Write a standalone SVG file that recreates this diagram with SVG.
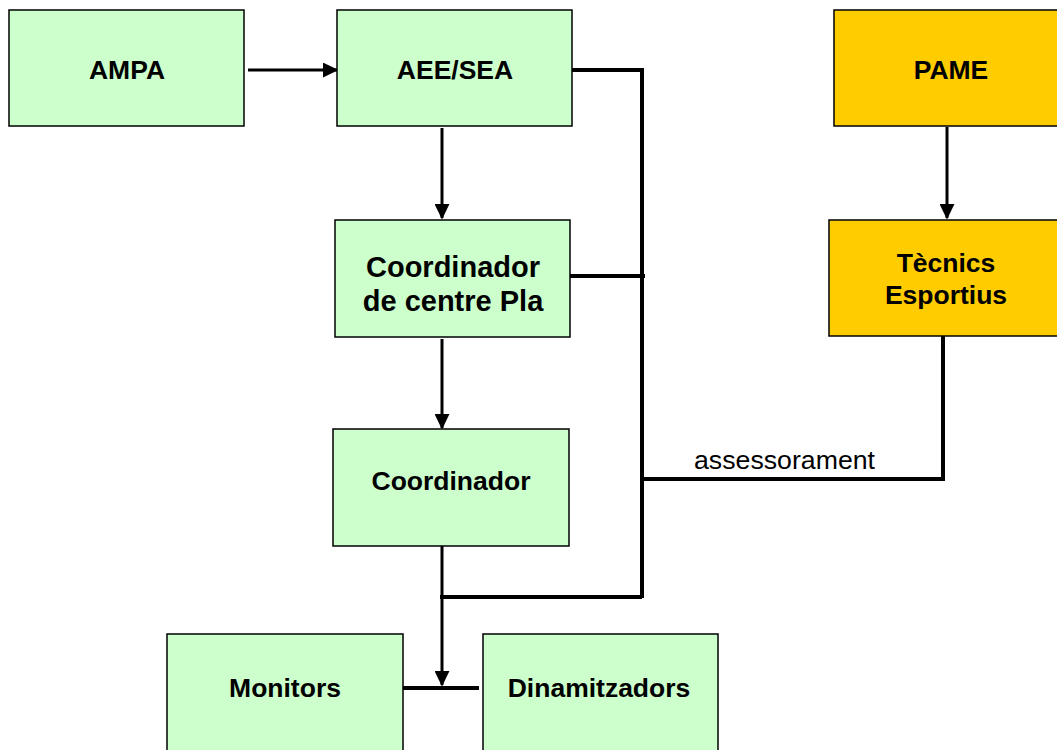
<svg xmlns="http://www.w3.org/2000/svg" width="1057" height="750" viewBox="0 0 1057 750">
<style>
.g{fill:#CCFFCC;stroke:#000;stroke-width:1.5}
.y{fill:#FFCC00;stroke:#000;stroke-width:1.5}
.t{font-family:"Liberation Sans",Arial,sans-serif;font-weight:bold;font-size:26.5px;text-anchor:middle;fill:#000}
.big{font-size:29px}
.c{fill:none;stroke:#000;stroke-width:3}
.k{fill:none;stroke:#000;stroke-width:4}
</style>
<defs>
<marker id="ah" markerWidth="5.2" markerHeight="5" refX="4.7" refY="2.5" orient="auto" markerUnits="strokeWidth">
<path d="M0,0 L5.2,2.5 L0,5 Z" fill="#000"/>
</marker>
</defs>
<rect width="1057" height="750" fill="#fff"/>
<g id="connectors">
<line class="c" x1="248" y1="70" x2="337" y2="70" marker-end="url(#ah)"/>
<line class="c" x1="442" y1="128" x2="442" y2="218" marker-end="url(#ah)"/>
<line class="c" x1="442" y1="339" x2="442" y2="428" marker-end="url(#ah)"/>
<line class="c" x1="947" y1="127" x2="947" y2="218" marker-end="url(#ah)"/>
<polyline class="k" points="572,70 642,70 642,598"/>
<line class="k" x1="570" y1="276" x2="645" y2="276"/>
<polyline class="k" points="642,479 943,479 943,336"/>
<line class="k" x1="440" y1="597" x2="642" y2="597"/>
<line class="c" x1="442" y1="546" x2="442" y2="685" marker-end="url(#ah)"/>
<line class="k" x1="403" y1="688" x2="479" y2="688"/>
<text x="694" y="469" font-family="'Liberation Sans',Arial,sans-serif" font-size="25" textLength="181" lengthAdjust="spacingAndGlyphs" fill="#000">assessorament</text>
</g>
<g id="ampa"><rect class="g" x="9" y="10" width="235" height="116"/><text class="t" x="127" y="79">AMPA</text></g>
<g id="aee"><rect class="g" x="337" y="10" width="235" height="116"/><text class="t" x="455" y="79">AEE/SEA</text></g>
<g id="pame"><rect class="y" x="834" y="10" width="230" height="116"/><text class="t" x="951" y="79">PAME</text></g>
<g id="tecnics"><rect class="y" x="829" y="220" width="235" height="116"/><text class="t" x="946" y="272">Tècnics</text><text class="t" x="946" y="304">Esportius</text></g>
<g id="coordpla"><rect class="g" x="335" y="220" width="235" height="117"/><text class="t big" x="453" y="277">Coordinador</text><text class="t big" x="453" y="311">de centre Pla</text></g>
<g id="coord"><rect class="g" x="333" y="429" width="236" height="117"/><text class="t" x="451" y="490">Coordinador</text></g>
<g id="monitors"><rect class="g" x="167" y="634" width="236" height="130"/><text class="t" x="285" y="697">Monitors</text></g>
<g id="dinam"><rect class="g" x="483" y="634" width="235" height="130"/><text class="t" x="599" y="697">Dinamitzadors</text></g>
</svg>
